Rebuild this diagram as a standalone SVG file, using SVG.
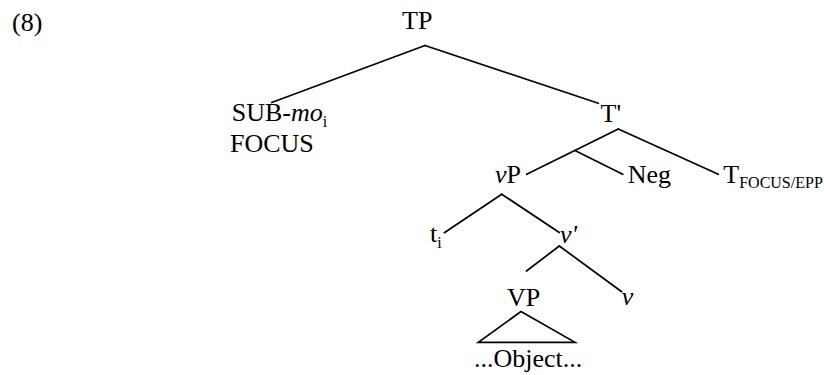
<svg xmlns="http://www.w3.org/2000/svg" width="824" height="375" viewBox="0 0 824 375">
<style>
text{font-family:'Liberation Serif','DejaVu Serif',serif;font-size:26px;fill:#000}
.it{font-style:italic}
.sub{font-size:16px}
.edge{stroke:#000;stroke-width:1.7;fill:none;stroke-linecap:round;stroke-linejoin:miter}
</style>
<rect width="824" height="375" fill="#fff"/>
<g id="connectors">
<line class="edge" x1="425" y1="45.5" x2="271.7" y2="102.5"/>
<line class="edge" x1="425" y1="45.5" x2="598.3" y2="103.3"/>
<line class="edge" x1="618.3" y1="129" x2="526.7" y2="174.3"/>
<line class="edge" x1="575" y1="150.4" x2="622.7" y2="174.3"/>
<line class="edge" x1="618.3" y1="129" x2="718.3" y2="174.3"/>
<line class="edge" x1="501.7" y1="194.2" x2="444.3" y2="232.7"/>
<line class="edge" x1="501.7" y1="194.2" x2="559.3" y2="232.5"/>
<line class="edge" x1="559.3" y1="246" x2="526.5" y2="271"/>
<line class="edge" x1="559.3" y1="246" x2="621.7" y2="291.7"/>
<polygon class="edge" points="521,311.5 478.3,342.3 575,342.3"/>
</g>
<g id="label-8"><text x="12" y="31">(8)</text></g>
<g id="node-TP"><text x="402" y="29">TP</text></g>
<g id="node-SUB"><text x="231.7" y="120.5">SUB-<tspan class="it">mo</tspan><tspan class="sub" dy="6">i</tspan></text><text x="230" y="152">FOCUS</text></g>
<g id="node-Tbar"><text x="600.5" y="121.7">T'</text></g>
<g id="node-vP"><text x="495" y="183.3"><tspan class="it">v</tspan>P</text></g>
<g id="node-Neg"><text x="627.7" y="183.3">Neg</text></g>
<g id="node-T"><text x="723.3" y="183.3">T<tspan class="sub" dy="4.5">FOCUS/EPP</tspan></text></g>
<g id="node-ti"><text x="430" y="242">t<tspan class="sub" dy="6">i</tspan></text></g>
<g id="node-vbar"><text class="it" x="560" y="243">v'</text></g>
<g id="node-VP"><text x="507" y="306">VP</text></g>
<g id="node-v"><text class="it" x="621.7" y="305">v</text></g>
<g id="node-Object"><text x="474" y="367">...Object...</text></g>
</svg>
